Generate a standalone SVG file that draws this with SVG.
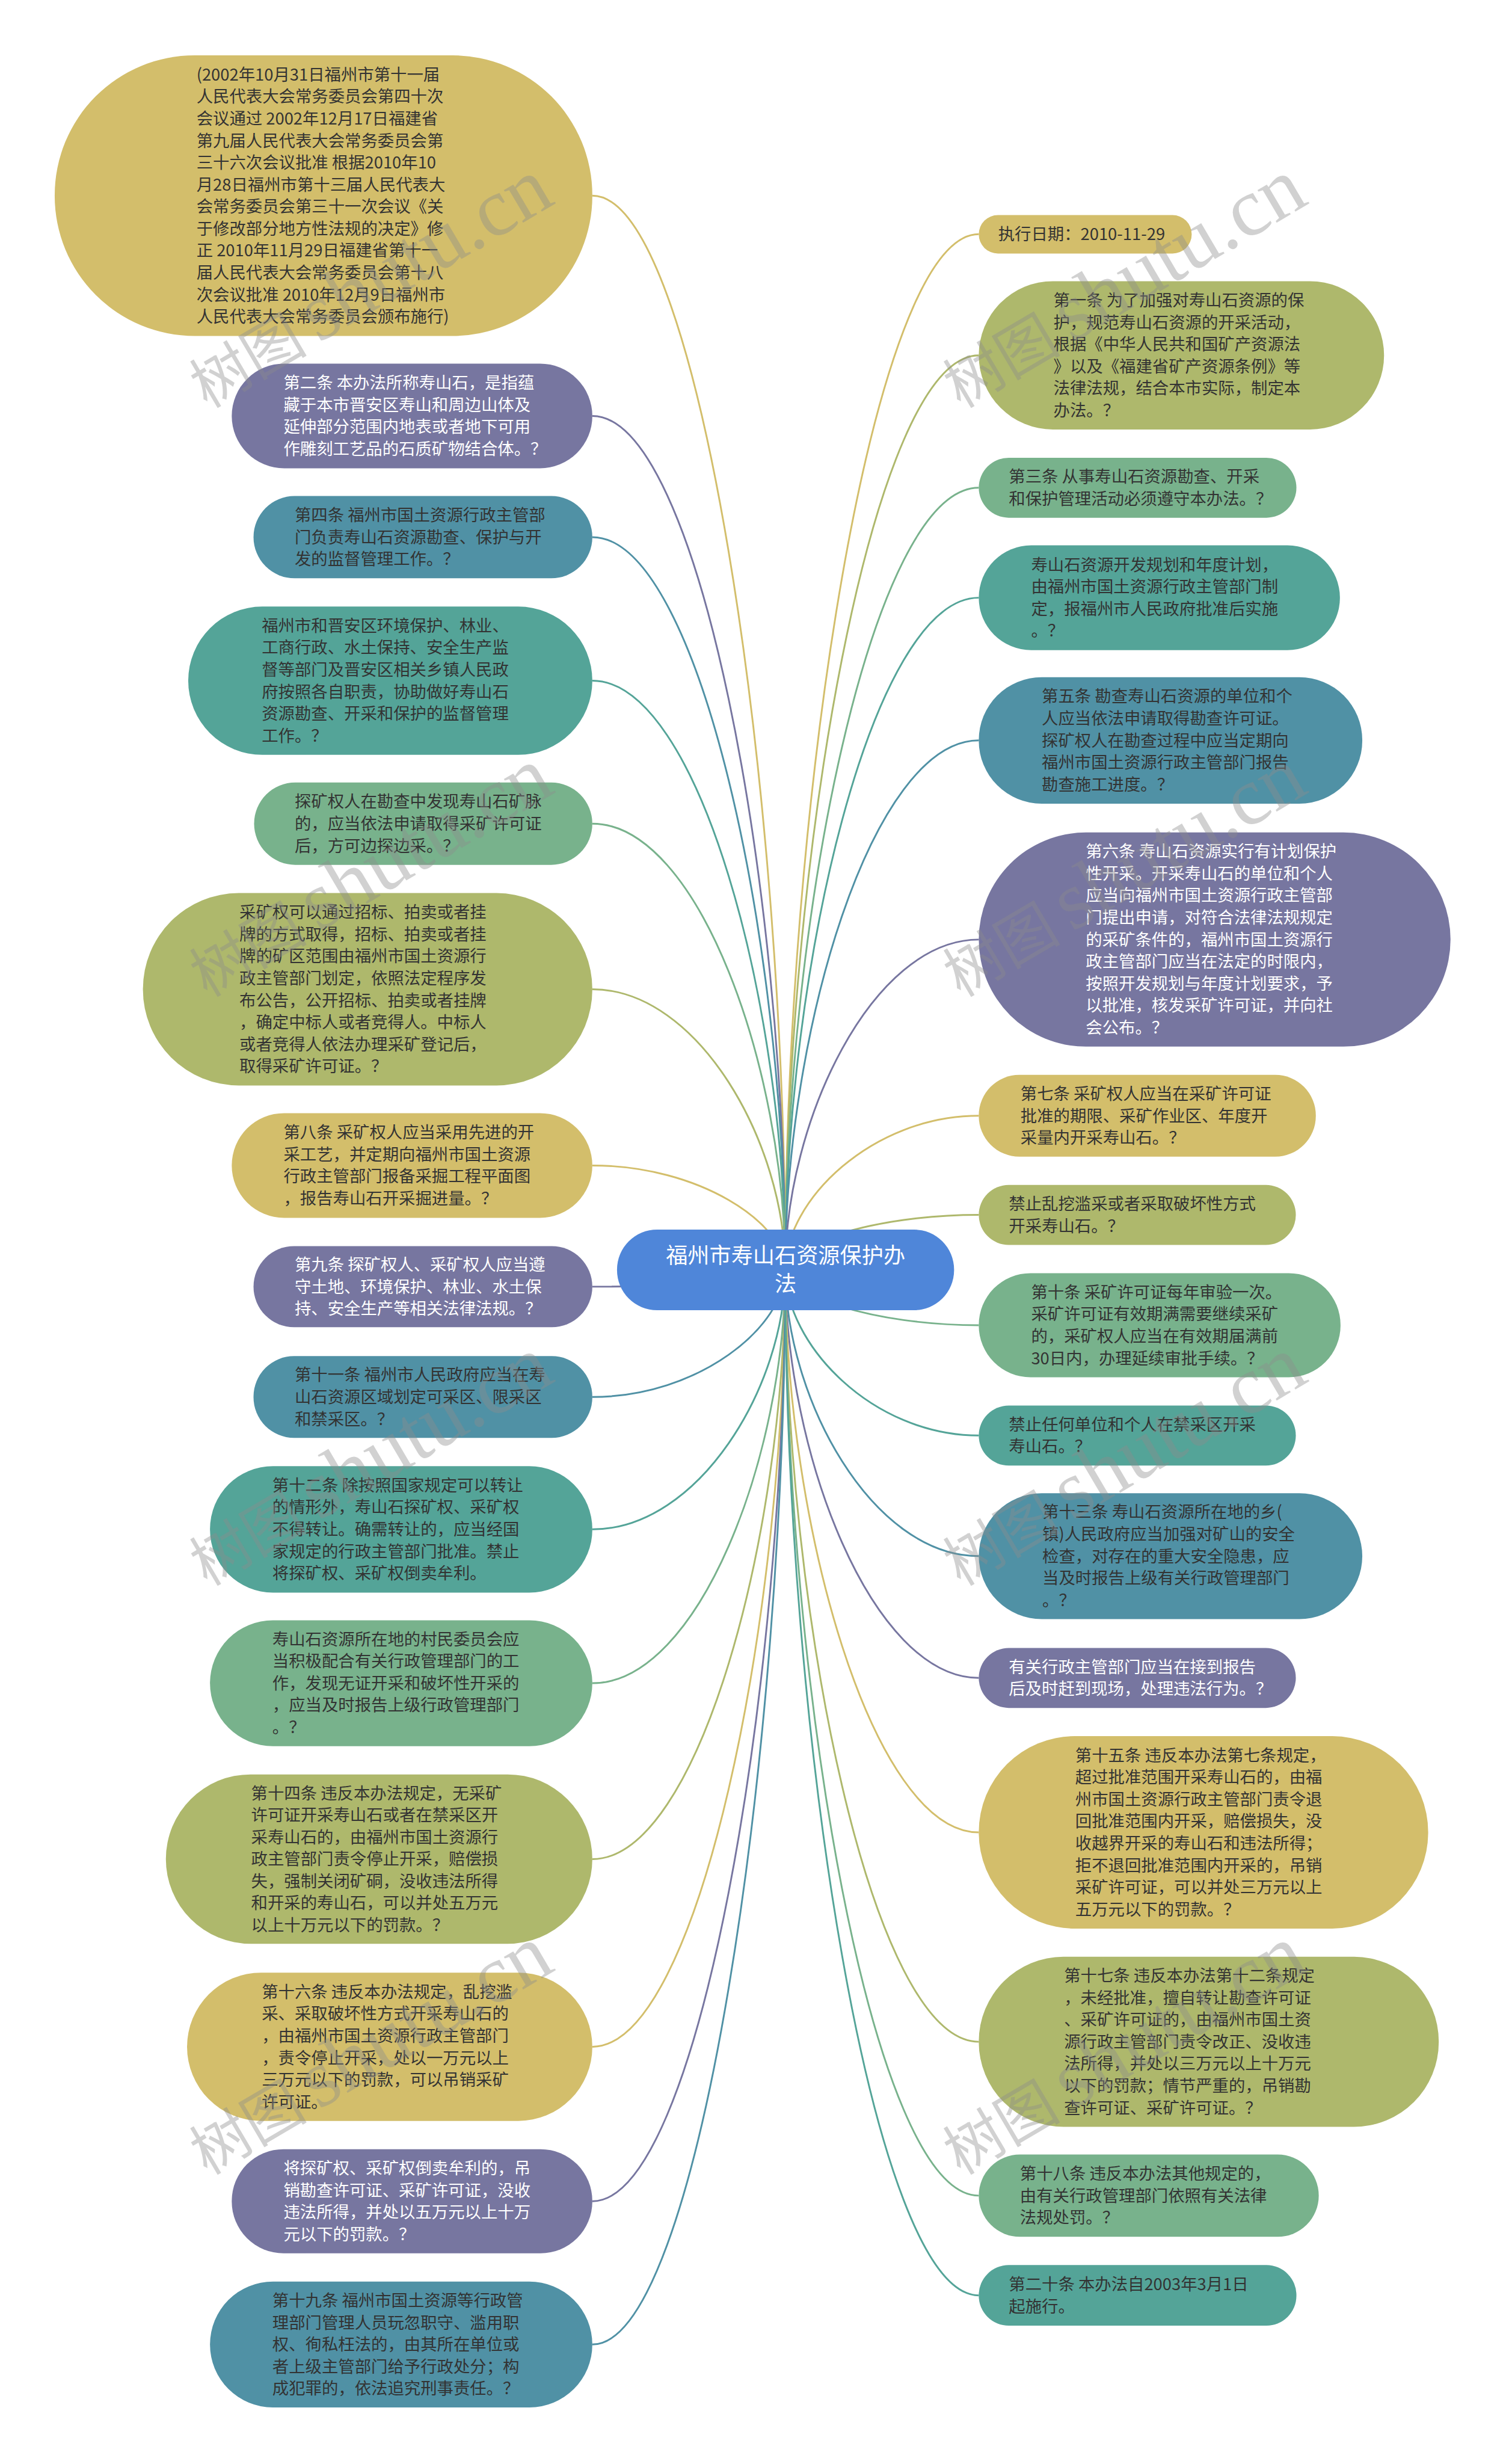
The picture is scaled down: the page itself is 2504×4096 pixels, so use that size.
<svg xmlns="http://www.w3.org/2000/svg" width="2504" height="4096" viewBox="0 0 2504 4096">
<style>
.t{font-family:"Noto Sans CJK SC","Liberation Sans",sans-serif;font-size:28px;fill:#333}
.w{fill:#fff}
.ct{font-family:"Noto Sans CJK SC","Liberation Sans",sans-serif;font-size:37px;fill:#fff;text-anchor:middle}
.gold{fill:#d3be6b}.olive{fill:#aeb86c}.purple{fill:#7776a0}.tb{fill:#5091a5}.tg{fill:#54a498}.lg{fill:#78b28c}
.lk{fill:none;stroke-width:3}
.sgold{stroke:#d3be6b}.solive{stroke:#aeb86c}.spurple{stroke:#7776a0}.stb{stroke:#5091a5}.stg{stroke:#54a498}.slg{stroke:#78b28c}
.wm{fill:#8c8c8c;fill-opacity:0.4}
.wm1{font-family:"Noto Sans CJK SC",serif;font-size:100px}
.wm2{font-family:"Liberation Serif",serif;font-size:140px}
</style>
<rect width="2504" height="4096" fill="#fff"/>
<g transform="scale(0.978)">
<g id="connectors">
<path class="lk sgold" d="M1335 2158 C1335 1336.5 1187.4 332.5 1007 332.5"/>
<path class="lk spurple" d="M1335 2158 C1335 1505 1187.4 707 1007 707"/>
<path class="lk stb" d="M1335 2158 C1335 1598 1187.4 913 1007 913"/>
<path class="lk stg" d="M1335 2158 C1335 1707.5 1187.4 1157 1007 1157"/>
<path class="lk slg" d="M1335 2158 C1335 1817 1187.4 1400 1007 1400"/>
<path class="lk solive" d="M1335 2158 C1335 1943.6 1187.4 1681.5 1007 1681.5"/>
<path class="lk sgold" d="M1335 2158 C1335 2078.3 1187.4 1981 1007 1981"/>
<path class="lk spurple" d="M1335 2158 C1335 2171 1187.4 2187 1007 2187"/>
<path class="lk stb" d="M1335 2158 C1335 2255.4 1187.4 2374.5 1007 2374.5"/>
<path class="lk stg" d="M1335 2158 C1335 2356.7 1187.4 2599.5 1007 2599.5"/>
<path class="lk slg" d="M1335 2158 C1335 2474.4 1187.4 2861 1007 2861"/>
<path class="lk solive" d="M1335 2158 C1335 2608.9 1187.4 3160 1007 3160"/>
<path class="lk sgold" d="M1335 2158 C1335 2752.5 1187.4 3479 1007 3479"/>
<path class="lk spurple" d="M1335 2158 C1335 2870.6 1187.4 3741.5 1007 3741.5"/>
<path class="lk stb" d="M1335 2158 C1335 2980.2 1187.4 3985 1007 3985"/>
<path class="lk sgold" d="M1335 2158 C1335 1366 1483 398 1664 398"/>
<path class="lk solive" d="M1335 2158 C1335 1458.7 1483 604 1664 604"/>
<path class="lk slg" d="M1335 2158 C1335 1560 1483 829 1664 829"/>
<path class="lk stg" d="M1335 2158 C1335 1644.1 1483 1016 1664 1016"/>
<path class="lk stb" d="M1335 2158 C1335 1753.2 1483 1258.5 1664 1258.5"/>
<path class="lk spurple" d="M1335 2158 C1335 1905.5 1483 1597 1664 1597"/>
<path class="lk sgold" d="M1335 2158 C1335 2040.3 1483 1896.5 1664 1896.5"/>
<path class="lk solive" d="M1335 2158 C1335 2116.2 1483 2065 1664 2065"/>
<path class="lk slg" d="M1335 2158 C1335 2200.5 1483 2252.5 1664 2252.5"/>
<path class="lk stg" d="M1335 2158 C1335 2284.9 1483 2440 1664 2440"/>
<path class="lk stb" d="M1335 2158 C1335 2377.2 1483 2645 1664 2645"/>
<path class="lk spurple" d="M1335 2158 C1335 2470.3 1483 2852 1664 2852"/>
<path class="lk sgold" d="M1335 2158 C1335 2588.4 1483 3114.5 1664 3114.5"/>
<path class="lk solive" d="M1335 2158 C1335 2748.6 1483 3470.5 1664 3470.5"/>
<path class="lk slg" d="M1335 2158 C1335 2866.3 1483 3732 1664 3732"/>
<path class="lk stg" d="M1335 2158 C1335 2942.6 1483 3901.5 1664 3901.5"/>
</g>
<g id="center">
<rect x="1049" y="2090" width="573" height="137" rx="68" fill="#4f86d9"/>
<text class="ct"><tspan x="1335.5" y="2147.5">福州市寿山石资源保护办</tspan><tspan x="1335.5" y="2195.5">法</tspan></text>
</g>
<g id="L1"><rect class="gold" x="93" y="94" width="914" height="477" rx="238"/>
<text class="t"><tspan x="334" y="136.8">(2002年10月31日福州市第十一届</tspan><tspan x="334" y="174.2">人民代表大会常务委员会第四十次</tspan><tspan x="334" y="211.6">会议通过 2002年12月17日福建省</tspan><tspan x="334" y="249">第九届人民代表大会常务委员会第</tspan><tspan x="334" y="286.4">三十六次会议批准 根据2010年10</tspan><tspan x="334" y="323.8">月28日福州市第十三届人民代表大</tspan><tspan x="334" y="361.2">会常务委员会第三十一次会议《关</tspan><tspan x="334" y="398.6">于修改部分地方性法规的决定》修</tspan><tspan x="334" y="436">正 2010年11月29日福建省第十一</tspan><tspan x="334" y="473.4">届人民代表大会常务委员会第十八</tspan><tspan x="334" y="510.8">次会议批准 2010年12月9日福州市</tspan><tspan x="334" y="548.2">人民代表大会常务委员会颁布施行)</tspan></text></g>
<g id="L2"><rect class="purple" x="394" y="618" width="613" height="178" rx="89"/>
<text class="t w"><tspan x="482" y="660.9">第二条 本办法所称寿山石，是指蕴</tspan><tspan x="482" y="698.3">藏于本市晋安区寿山和周边山体及</tspan><tspan x="482" y="735.7">延伸部分范围内地表或者地下可用</tspan><tspan x="482" y="773.1">作雕刻工艺品的石质矿物结合体。？</tspan></text></g>
<g id="L3"><rect class="tb" x="431" y="843" width="576" height="140" rx="70"/>
<text class="t"><tspan x="501" y="885.6">第四条 福州市国土资源行政主管部</tspan><tspan x="501" y="923">门负责寿山石资源勘查、保护与开</tspan><tspan x="501" y="960.4">发的监督管理工作。？</tspan></text></g>
<g id="L4"><rect class="tg" x="320" y="1031" width="687" height="252" rx="126"/>
<text class="t"><tspan x="445" y="1073.5">福州市和晋安区环境保护、林业、</tspan><tspan x="445" y="1110.9">工商行政、水土保持、安全生产监</tspan><tspan x="445" y="1148.3">督等部门及晋安区相关乡镇人民政</tspan><tspan x="445" y="1185.7">府按照各自职责，协助做好寿山石</tspan><tspan x="445" y="1223.1">资源勘查、开采和保护的监督管理</tspan><tspan x="445" y="1260.5">工作。？</tspan></text></g>
<g id="L5"><rect class="lg" x="432" y="1330" width="575" height="140" rx="70"/>
<text class="t"><tspan x="501" y="1372.6">探矿权人在勘查中发现寿山石矿脉</tspan><tspan x="501" y="1410">的，应当依法申请取得采矿许可证</tspan><tspan x="501" y="1447.4">后，方可边探边采。？</tspan></text></g>
<g id="L6"><rect class="olive" x="243" y="1518" width="764" height="327" rx="163"/>
<text class="t"><tspan x="407" y="1560.6">采矿权可以通过招标、拍卖或者挂</tspan><tspan x="407" y="1598">牌的方式取得，招标、拍卖或者挂</tspan><tspan x="407" y="1635.4">牌的矿区范围由福州市国土资源行</tspan><tspan x="407" y="1672.8">政主管部门划定，依照法定程序发</tspan><tspan x="407" y="1710.2">布公告，公开招标、拍卖或者挂牌</tspan><tspan x="407" y="1747.6">，确定中标人或者竞得人。中标人</tspan><tspan x="407" y="1785">或者竞得人依法办理采矿登记后，</tspan><tspan x="407" y="1822.4">取得采矿许可证。？</tspan></text></g>
<g id="L7"><rect class="gold" x="394" y="1892" width="613" height="178" rx="89"/>
<text class="t"><tspan x="482" y="1934.9">第八条 采矿权人应当采用先进的开</tspan><tspan x="482" y="1972.3">采工艺，并定期向福州市国土资源</tspan><tspan x="482" y="2009.7">行政主管部门报备采掘工程平面图</tspan><tspan x="482" y="2047.1">，报告寿山石开采掘进量。？</tspan></text></g>
<g id="L8"><rect class="purple" x="431" y="2118" width="576" height="138" rx="69"/>
<text class="t w"><tspan x="501" y="2159.6">第九条 探矿权人、采矿权人应当遵</tspan><tspan x="501" y="2197">守土地、环境保护、林业、水土保</tspan><tspan x="501" y="2234.4">持、安全生产等相关法律法规。？</tspan></text></g>
<g id="L9"><rect class="tb" x="431" y="2305" width="576" height="139" rx="69"/>
<text class="t"><tspan x="501" y="2347.1">第十一条 福州市人民政府应当在寿</tspan><tspan x="501" y="2384.5">山石资源区域划定可采区、限采区</tspan><tspan x="501" y="2421.9">和禁采区。？</tspan></text></g>
<g id="L10"><rect class="tg" x="357" y="2492" width="650" height="215" rx="107"/>
<text class="t"><tspan x="463" y="2534.7">第十二条 除按照国家规定可以转让</tspan><tspan x="463" y="2572.1">的情形外，寿山石探矿权、采矿权</tspan><tspan x="463" y="2609.5">不得转让。确需转让的，应当经国</tspan><tspan x="463" y="2646.9">家规定的行政主管部门批准。禁止</tspan><tspan x="463" y="2684.3">将探矿权、采矿权倒卖牟利。</tspan></text></g>
<g id="L11"><rect class="lg" x="357" y="2754" width="650" height="214" rx="107"/>
<text class="t"><tspan x="463" y="2796.2">寿山石资源所在地的村民委员会应</tspan><tspan x="463" y="2833.6">当积极配合有关行政管理部门的工</tspan><tspan x="463" y="2871">作，发现无证开采和破坏性开采的</tspan><tspan x="463" y="2908.4">，应当及时报告上级行政管理部门</tspan><tspan x="463" y="2945.8">。？</tspan></text></g>
<g id="L12"><rect class="olive" x="282" y="3016" width="725" height="288" rx="144"/>
<text class="t"><tspan x="427" y="3057.8">第十四条 违反本办法规定，无采矿</tspan><tspan x="427" y="3095.2">许可证开采寿山石或者在禁采区开</tspan><tspan x="427" y="3132.6">采寿山石的，由福州市国土资源行</tspan><tspan x="427" y="3170">政主管部门责令停止开采，赔偿损</tspan><tspan x="427" y="3207.4">失，强制关闭矿硐，没收违法所得</tspan><tspan x="427" y="3244.8">和开采的寿山石，可以并处五万元</tspan><tspan x="427" y="3282.2">以上十万元以下的罚款。？</tspan></text></g>
<g id="L13"><rect class="gold" x="318" y="3353" width="689" height="252" rx="126"/>
<text class="t"><tspan x="445" y="3395.5">第十六条 违反本办法规定，乱挖滥</tspan><tspan x="445" y="3432.9">采、采取破坏性方式开采寿山石的</tspan><tspan x="445" y="3470.3">，由福州市国土资源行政主管部门</tspan><tspan x="445" y="3507.7">，责令停止开采，处以一万元以上</tspan><tspan x="445" y="3545.1">三万元以下的罚款，可以吊销采矿</tspan><tspan x="445" y="3582.5">许可证。</tspan></text></g>
<g id="L14"><rect class="purple" x="394" y="3653" width="613" height="177" rx="88"/>
<text class="t w"><tspan x="482" y="3695.4">将探矿权、采矿权倒卖牟利的，吊</tspan><tspan x="482" y="3732.8">销勘查许可证、采矿许可证，没收</tspan><tspan x="482" y="3770.2">违法所得，并处以五万元以上十万</tspan><tspan x="482" y="3807.6">元以下的罚款。？</tspan></text></g>
<g id="L15"><rect class="tb" x="357" y="3878" width="650" height="214" rx="107"/>
<text class="t"><tspan x="463" y="3920.2">第十九条 福州市国土资源等行政管</tspan><tspan x="463" y="3957.6">理部门管理人员玩忽职守、滥用职</tspan><tspan x="463" y="3995">权、徇私枉法的，由其所在单位或</tspan><tspan x="463" y="4032.4">者上级主管部门给予行政处分；构</tspan><tspan x="463" y="4069.8">成犯罪的，依法追究刑事责任。？</tspan></text></g>
<g id="R1"><rect class="gold" x="1664" y="365.5" width="362" height="65.5" rx="32.7"/>
<text class="t"><tspan x="1697" y="408">执行日期：2010-11-29</tspan></text></g>
<g id="R2"><rect class="olive" x="1664" y="478" width="689" height="252" rx="126"/>
<text class="t"><tspan x="1791" y="520.5">第一条 为了加强对寿山石资源的保</tspan><tspan x="1791" y="557.9">护，规范寿山石资源的开采活动，</tspan><tspan x="1791" y="595.3">根据《中华人民共和国矿产资源法</tspan><tspan x="1791" y="632.7">》以及《福建省矿产资源条例》等</tspan><tspan x="1791" y="670.1">法律法规，结合本市实际，制定本</tspan><tspan x="1791" y="707.5">办法。？</tspan></text></g>
<g id="R3"><rect class="lg" x="1664" y="778" width="540" height="102" rx="51"/>
<text class="t"><tspan x="1715" y="820.3">第三条 从事寿山石资源勘查、开采</tspan><tspan x="1715" y="857.7">和保护管理活动必须遵守本办法。？</tspan></text></g>
<g id="R4"><rect class="tg" x="1664" y="927" width="614" height="178" rx="89"/>
<text class="t"><tspan x="1753" y="969.9">寿山石资源开发规划和年度计划，</tspan><tspan x="1753" y="1007.3">由福州市国土资源行政主管部门制</tspan><tspan x="1753" y="1044.7">定，报福州市人民政府批准后实施</tspan><tspan x="1753" y="1082.1">。？</tspan></text></g>
<g id="R5"><rect class="tb" x="1664" y="1151" width="652" height="215" rx="107"/>
<text class="t"><tspan x="1771" y="1193.7">第五条 勘查寿山石资源的单位和个</tspan><tspan x="1771" y="1231.1">人应当依法申请取得勘查许可证。</tspan><tspan x="1771" y="1268.5">探矿权人在勘查过程中应当定期向</tspan><tspan x="1771" y="1305.9">福州市国土资源行政主管部门报告</tspan><tspan x="1771" y="1343.3">勘查施工进度。？</tspan></text></g>
<g id="R6"><rect class="purple" x="1664" y="1415" width="802" height="364" rx="182"/>
<text class="t w"><tspan x="1846" y="1457.4">第六条 寿山石资源实行有计划保护</tspan><tspan x="1846" y="1494.8">性开采。开采寿山石的单位和个人</tspan><tspan x="1846" y="1532.2">应当向福州市国土资源行政主管部</tspan><tspan x="1846" y="1569.6">门提出申请，对符合法律法规规定</tspan><tspan x="1846" y="1607">的采矿条件的，福州市国土资源行</tspan><tspan x="1846" y="1644.4">政主管部门应当在法定的时限内，</tspan><tspan x="1846" y="1681.8">按照开发规划与年度计划要求，予</tspan><tspan x="1846" y="1719.2">以批准，核发采矿许可证，并向社</tspan><tspan x="1846" y="1756.6">会公布。？</tspan></text></g>
<g id="R7"><rect class="gold" x="1664" y="1827" width="573" height="139" rx="69"/>
<text class="t"><tspan x="1735" y="1869.1">第七条 采矿权人应当在采矿许可证</tspan><tspan x="1735" y="1906.5">批准的期限、采矿作业区、年度开</tspan><tspan x="1735" y="1943.9">采量内开采寿山石。？</tspan></text></g>
<g id="R8"><rect class="olive" x="1664" y="2014" width="539" height="102" rx="51"/>
<text class="t"><tspan x="1715" y="2056.3">禁止乱挖滥采或者采取破坏性方式</tspan><tspan x="1715" y="2093.7">开采寿山石。？</tspan></text></g>
<g id="R9"><rect class="lg" x="1664" y="2164" width="615" height="177" rx="88"/>
<text class="t"><tspan x="1753" y="2206.4">第十条 采矿许可证每年审验一次。</tspan><tspan x="1753" y="2243.8">采矿许可证有效期满需要继续采矿</tspan><tspan x="1753" y="2281.2">的，采矿权人应当在有效期届满前</tspan><tspan x="1753" y="2318.6">30日内，办理延续审批手续。？</tspan></text></g>
<g id="R10"><rect class="tg" x="1664" y="2389" width="539" height="102" rx="51"/>
<text class="t"><tspan x="1715" y="2431.3">禁止任何单位和个人在禁采区开采</tspan><tspan x="1715" y="2468.7">寿山石。？</tspan></text></g>
<g id="R11"><rect class="tb" x="1664" y="2538" width="652" height="214" rx="107"/>
<text class="t"><tspan x="1772" y="2580.2">第十三条 寿山石资源所在地的乡(</tspan><tspan x="1772" y="2617.6">镇)人民政府应当加强对矿山的安全</tspan><tspan x="1772" y="2655">检查，对存在的重大安全隐患，应</tspan><tspan x="1772" y="2692.4">当及时报告上级有关行政管理部门</tspan><tspan x="1772" y="2729.8">。？</tspan></text></g>
<g id="R12"><rect class="purple" x="1664" y="2801" width="539" height="102" rx="51"/>
<text class="t w"><tspan x="1715" y="2843.3">有关行政主管部门应当在接到报告</tspan><tspan x="1715" y="2880.7">后及时赶到现场，处理违法行为。？</tspan></text></g>
<g id="R13"><rect class="gold" x="1664" y="2951" width="764" height="327" rx="163"/>
<text class="t"><tspan x="1828" y="2993.6">第十五条 违反本办法第七条规定，</tspan><tspan x="1828" y="3031">超过批准范围开采寿山石的，由福</tspan><tspan x="1828" y="3068.4">州市国土资源行政主管部门责令退</tspan><tspan x="1828" y="3105.8">回批准范围内开采，赔偿损失，没</tspan><tspan x="1828" y="3143.2">收越界开采的寿山石和违法所得；</tspan><tspan x="1828" y="3180.6">拒不退回批准范围内开采的，吊销</tspan><tspan x="1828" y="3218">采矿许可证，可以并处三万元以上</tspan><tspan x="1828" y="3255.4">五万元以下的罚款。？</tspan></text></g>
<g id="R14"><rect class="olive" x="1664" y="3326" width="782" height="289" rx="144"/>
<text class="t"><tspan x="1809" y="3368.3">第十七条 违反本办法第十二条规定</tspan><tspan x="1809" y="3405.7">，未经批准，擅自转让勘查许可证</tspan><tspan x="1809" y="3443.1">、采矿许可证的，由福州市国土资</tspan><tspan x="1809" y="3480.5">源行政主管部门责令改正、没收违</tspan><tspan x="1809" y="3517.9">法所得，并处以三万元以上十万元</tspan><tspan x="1809" y="3555.3">以下的罚款；情节严重的，吊销勘</tspan><tspan x="1809" y="3592.7">查许可证、采矿许可证。？</tspan></text></g>
<g id="R15"><rect class="lg" x="1664" y="3662" width="578" height="140" rx="70"/>
<text class="t"><tspan x="1734" y="3704.6">第十八条 违反本办法其他规定的，</tspan><tspan x="1734" y="3742">由有关行政管理部门依照有关法律</tspan><tspan x="1734" y="3779.4">法规处罚。？</tspan></text></g>
<g id="R16"><rect class="tg" x="1664" y="3850" width="540" height="103" rx="51"/>
<text class="t"><tspan x="1715" y="3892.8">第二十条 本办法自2003年3月1日</tspan><tspan x="1715" y="3930.2">起施行。</tspan></text></g>
<g id="watermarks" class="wm">
<text transform="translate(352 695) rotate(-30.5)"><tspan class="wm1">树图</tspan><tspan class="wm2" dx="20">shutu.cn</tspan></text>
<text transform="translate(1633 695) rotate(-30.5)"><tspan class="wm1">树图</tspan><tspan class="wm2" dx="20">shutu.cn</tspan></text>
<text transform="translate(352 1696) rotate(-30.5)"><tspan class="wm1">树图</tspan><tspan class="wm2" dx="20">shutu.cn</tspan></text>
<text transform="translate(1633 1696) rotate(-30.5)"><tspan class="wm1">树图</tspan><tspan class="wm2" dx="20">shutu.cn</tspan></text>
<text transform="translate(352 2697) rotate(-30.5)"><tspan class="wm1">树图</tspan><tspan class="wm2" dx="20">shutu.cn</tspan></text>
<text transform="translate(1633 2697) rotate(-30.5)"><tspan class="wm1">树图</tspan><tspan class="wm2" dx="20">shutu.cn</tspan></text>
<text transform="translate(352 3698) rotate(-30.5)"><tspan class="wm1">树图</tspan><tspan class="wm2" dx="20">shutu.cn</tspan></text>
<text transform="translate(1633 3698) rotate(-30.5)"><tspan class="wm1">树图</tspan><tspan class="wm2" dx="20">shutu.cn</tspan></text>
</g>
</g>
</svg>
